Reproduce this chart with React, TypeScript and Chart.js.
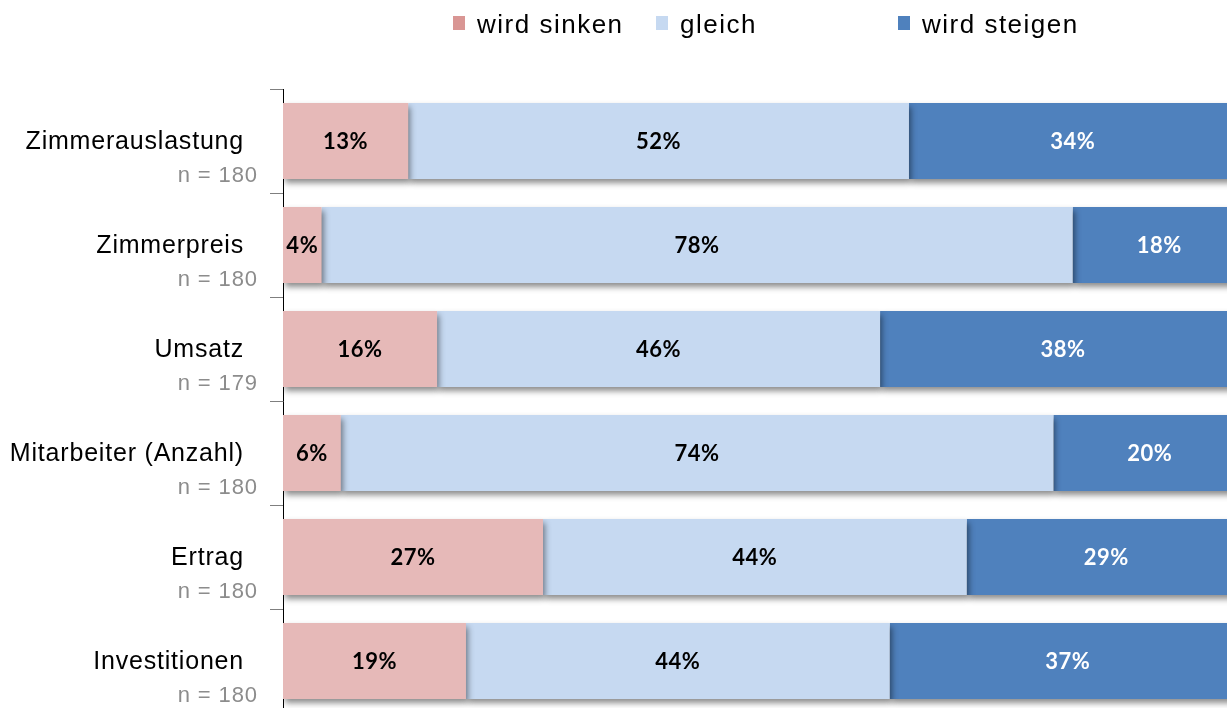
import React, { useEffect, useRef } from "react";
import { Chart, registerables } from "chart.js";

Chart.register(...registerables);

const categories = ["Zimmerauslastung", "Zimmerpreis", "Umsatz", "Mitarbeiter (Anzahl)", "Ertrag", "Investitionen"];
const sampleSizes = ["n = 180", "n = 180", "n = 179", "n = 180", "n = 180", "n = 180"];
const seriesNames = ["wird sinken", "gleich", "wird steigen"];
const sinken = [13, 4, 16, 6, 27, 19];
const gleich = [52, 78, 46, 74, 44, 44];
const steigen = [34, 18, 38, 20, 29, 37];

const barColors = ["#E6B9B8", "#C6D9F1", "#4F81BD"];
const legendColors = ["#D99694", "#C6D9F1", "#4F81BD"];
const labelColors = ["#000000", "#000000", "#FFFFFF"];

const shadowPlugin = {
  id: "barShadow",
  beforeDatasetsDraw(chart: any) {
    const ctx = chart.ctx;
    ctx.save();
    ctx.shadowColor = "rgba(0,0,0,0.45)";
    ctx.shadowBlur = 6;
    ctx.shadowOffsetX = 2;
    ctx.shadowOffsetY = 4;
  },
  afterDatasetsDraw(chart: any) {
    chart.ctx.restore();
  },
};

const valueLabelPlugin = {
  id: "valueLabels",
  afterDatasetsDraw(chart: any) {
    const ctx = chart.ctx;
    ctx.save();
    ctx.font = "bold 22px Lato, 'Open Sans', sans-serif";
    ctx.textAlign = "center";
    ctx.textBaseline = "middle";
    (ctx as any).letterSpacing = "0.5px";
    chart.data.datasets.forEach((ds: any, di: number) => {
      const meta = chart.getDatasetMeta(di);
      meta.data.forEach((el: any, i: number) => {
        const v = ds.data[i];
        const cx = (el.x + el.base) / 2;
        ctx.fillStyle = labelColors[di];
        ctx.fillText(v + "%", cx, el.y + 1);
      });
    });
    ctx.restore();
  },
};

const categoryLabelPlugin = {
  id: "categoryLabels",
  afterDraw(chart: any) {
    const ctx = chart.ctx;
    const y = chart.scales.y;
    ctx.save();
    ctx.textAlign = "right";
    ctx.textBaseline = "middle";
    categories.forEach((c, i) => {
      const py = y.getPixelForValue(i);
      ctx.font = "25px 'Liberation Sans', Arial, sans-serif";
      (ctx as any).letterSpacing = "0.8px";
      ctx.fillStyle = "#000000";
      ctx.fillText(c, 244, py + 1);
      ctx.font = "22px 'Liberation Sans', Arial, sans-serif";
      (ctx as any).letterSpacing = "0.9px";
      ctx.fillStyle = "#8C8C8C";
      ctx.fillText(sampleSizes[i], 258, py + 35);
    });
    ctx.restore();
  },
};

const legendPlugin = {
  id: "customLegend",
  afterDraw(chart: any) {
    const ctx = chart.ctx;
    const xs = [453, 656, 898];
    ctx.save();
    ctx.font = "26px 'Liberation Sans', Arial, sans-serif";
    (ctx as any).letterSpacing = "1.5px";
    ctx.textAlign = "left";
    ctx.textBaseline = "alphabetic";
    chart.data.datasets.forEach((ds: any, i: number) => {
      ctx.fillStyle = legendColors[i];
      ctx.fillRect(xs[i], 16, 12, 14);
      ctx.fillStyle = "#000000";
      ctx.fillText(ds.label, xs[i] + 24, 33);
    });
    ctx.restore();
  },
};

export default function App() {
  const ref = useRef<HTMLCanvasElement>(null);
  useEffect(() => {
    document.documentElement.style.overflow = "hidden";
    document.body.style.overflow = "hidden";
    document.body.style.margin = "0";
    const chart = new Chart(ref.current as HTMLCanvasElement, {
      type: "bar",
      data: {
        labels: categories,
        datasets: [sinken, gleich, steigen].map((d, i) => ({
          label: seriesNames[i],
          data: d,
          backgroundColor: barColors[i],
          borderWidth: 0,
          categoryPercentage: 1,
          barPercentage: 0.73,
        })),
      },
      options: {
        indexAxis: "y",
        responsive: false,
        animation: false,
        layout: { padding: { left: 270, right: 14, top: 89, bottom: 7 } },
        plugins: {
          legend: { display: false },
          tooltip: { enabled: false },
        },
        scales: {
          x: { stacked: true, min: 0, max: 100, display: false },
          y: {
            stacked: true,
            ticks: { display: false },
            grid: {
              drawOnChartArea: false,
              drawTicks: true,
              tickLength: 13,
              color: "#7F7F7F",
              offset: true,
            },
            border: { display: true, color: "#000000", width: 1 },
          },
        },
      },
      plugins: [shadowPlugin, valueLabelPlugin, categoryLabelPlugin, legendPlugin],
    });
    return () => chart.destroy();
  }, []);
  return (
    <div style={{ position: "fixed", left: 0, top: 0, width: 1260, height: 720, background: "#fff" }}>
      <canvas ref={ref} width={1260} height={720} style={{ width: 1260, height: 720 }} />
    </div>
  );
}
